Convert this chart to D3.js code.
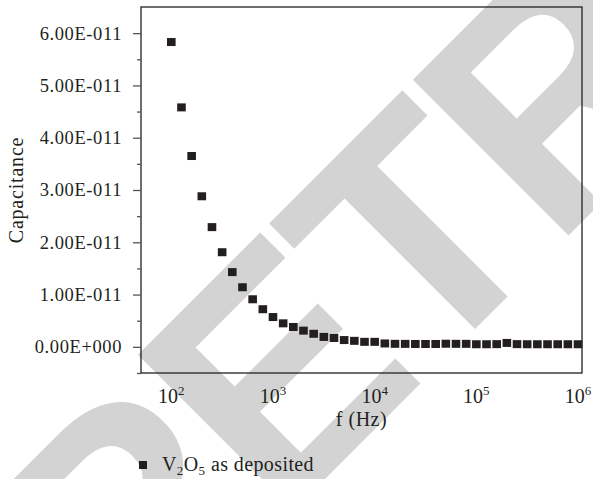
<!DOCTYPE html>
<html>
<head>
<meta charset="utf-8">
<script src="https://cdn.jsdelivr.net/npm/d3@7"></script>
<style>
  body { margin: 0; background: #fff; }
  text { font-family: "Liberation Serif", "DejaVu Serif", serif; fill: #231f20; }
</style>
</head>
<body>
<div id="chart"></div>
<script>
// frequency (Hz), 0.1-decade steps
const freq = [100, 125.9, 158.5, 199.5, 251.2, 316.2, 398.1, 501.2, 631, 794.3,
  1000, 1259, 1585, 1995, 2512, 3162, 3981, 5012, 6310, 7943,
  10000, 12589, 15849, 19953, 25119, 31623, 39811, 50119, 63096, 79433,
  100000, 125893, 158489, 199526, 251189, 316228, 398107, 501187, 630957, 794328, 1000000];
// capacitance (F)
const capacitance = [5.83e-11, 4.58e-11, 3.65e-11, 2.88e-11, 2.29e-11, 1.81e-11, 1.43e-11, 1.14e-11, 0.91e-11, 0.72e-11,
  0.57e-11, 0.45e-11, 0.38e-11, 0.31e-11, 0.25e-11, 0.19e-11, 0.17e-11, 0.13e-11, 0.115e-11, 0.096e-11,
  0.096e-11, 0.065e-11, 0.058e-11, 0.057e-11, 0.055e-11, 0.055e-11, 0.055e-11, 0.06e-11, 0.058e-11, 0.058e-11,
  0.05e-11, 0.05e-11, 0.052e-11, 0.075e-11, 0.052e-11, 0.05e-11, 0.05e-11, 0.05e-11, 0.05e-11, 0.05e-11, 0.05e-11];
const yTicks = [0, 1e-11, 2e-11, 3e-11, 4e-11, 5e-11, 6e-11];
const yTickLabels = ['0.00E+000', '1.00E-011', '2.00E-011', '3.00E-011', '4.00E-011', '5.00E-011', '6.00E-011'];
const yMinorTicks = [-0.5e-11, 0.5e-11, 1.5e-11, 2.5e-11, 3.5e-11, 4.5e-11, 5.5e-11];
const xTicks = [1e2, 1e3, 1e4, 1e5, 1e6];
const xTickExp = ['2', '3', '4', '5', '6'];

const width = 593, height = 479;
const margin = { top: 7, right: 11, bottom: 106, left: 141 };

const svg = d3.select('#chart')
  .append('svg')
  .attr('width', width)
  .attr('height', height);

// retraction watermark, behind the plot
svg.append('text')
  .attr('transform', 'translate(122,682) rotate(-45)')
  .style('font-family', '"Liberation Sans", Arial, sans-serif')
  .style('font-weight', 'bold')
  .style('font-size', '320px')
  .style('letter-spacing', '-10px')
  .style('fill', '#d3d3d3')
  .text('RETRACTED');

const x = d3.scaleLog()
  .domain([Math.pow(10, 1.702), Math.pow(10, 6.039)])
  .range([margin.left, width - margin.right]);

const y = d3.scaleLinear()
  .domain([-0.5e-11, 6.5e-11])
  .range([height - margin.bottom, margin.top]);

// frame
svg.append('rect')
  .attr('x', margin.left)
  .attr('y', margin.top)
  .attr('width', width - margin.left - margin.right)
  .attr('height', height - margin.top - margin.bottom)
  .attr('fill', 'none')
  .attr('stroke', '#231f20')
  .attr('stroke-width', 1.3);

// Y axis (major + minor ticks outside)
const yAxis = svg.append('g')
  .attr('transform', `translate(${margin.left},0)`)
  .call(d3.axisLeft(y).tickValues(yTicks).tickSize(8).tickPadding(11)
    .tickFormat((d, i) => yTickLabels[i]));
yAxis.select('.domain').remove();
yAxis.selectAll('line').attr('stroke', '#555').attr('stroke-width', 1.3);
yAxis.selectAll('text')
  .attr('fill', '#231f20')
  .style('font-size', '18.5px')
  .style('letter-spacing', '0.6px')
  .style('font-family', '"Liberation Serif", serif');

const yMinor = svg.append('g')
  .attr('transform', `translate(${margin.left},0)`)
  .call(d3.axisLeft(y).tickValues(yMinorTicks).tickSize(4).tickFormat(''));
yMinor.select('.domain').remove();
yMinor.selectAll('line').attr('stroke', '#555').attr('stroke-width', 1.3);

// X tick labels: 10 with superscript exponent
const xLab = svg.append('g')
  .selectAll('text')
  .data(xTicks)
  .enter()
  .append('text')
  .attr('x', d => x(d))
  .attr('y', 403)
  .attr('text-anchor', 'middle')
  .style('font-size', '20px');
xLab.append('tspan').text('10');
xLab.append('tspan')
  .attr('dy', -8)
  .style('font-size', '13px')
  .text((d, i) => xTickExp[i]);

// axis titles
svg.append('text')
  .attr('x', (margin.left + width - margin.right) / 2)
  .attr('y', 426)
  .attr('text-anchor', 'middle')
  .style('font-size', '20px')
  .style('letter-spacing', '0.5px')
  .text('f (Hz)');

svg.append('text')
  .attr('transform', `translate(23,${(margin.top + height - margin.bottom) / 2}) rotate(-90)`)
  .attr('text-anchor', 'middle')
  .style('font-size', '20px')
  .style('letter-spacing', '0.8px')
  .text('Capacitance');

// points
const pts = freq.map((f, i) => ({ f: f, c: capacitance[i] }));
svg.append('g')
  .selectAll('rect')
  .data(pts)
  .enter()
  .append('rect')
  .attr('x', d => x(d.f) - 4.3)
  .attr('y', d => y(d.c) - 4)
  .attr('width', 8.6)
  .attr('height', 8)
  .attr('fill', '#231f20');

// legend
svg.append('rect')
  .attr('x', 139)
  .attr('y', 461)
  .attr('width', 8)
  .attr('height', 8)
  .attr('fill', '#231f20');
const leg = svg.append('text')
  .attr('x', 162)
  .attr('y', 471)
  .style('font-size', '20px')
  .style('letter-spacing', '0.4px');
leg.append('tspan').text('V');
leg.append('tspan').attr('dy', 4).style('font-size', '13px').text('2');
leg.append('tspan').attr('dy', -4).text('O');
leg.append('tspan').attr('dy', 4).style('font-size', '13px').text('5');
leg.append('tspan').attr('dy', -4).text(' as deposited');
</script>
</body>
</html>
